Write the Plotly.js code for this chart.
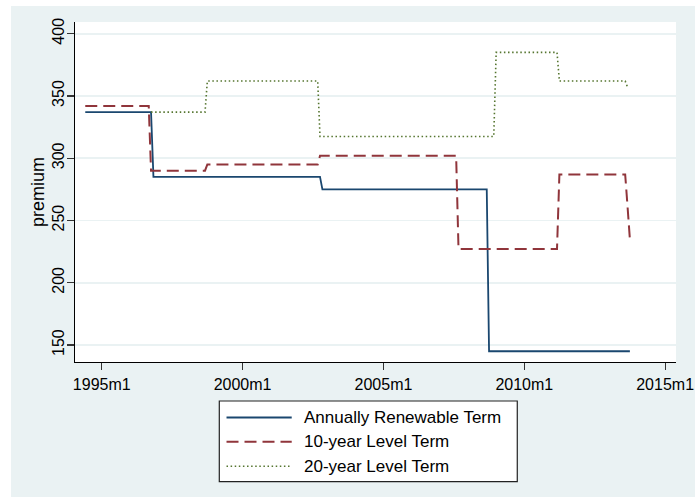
<!DOCTYPE html>
<html>
<head>
<meta charset="utf-8">
<script src="https://cdn.plot.ly/plotly-3.0.1.min.js"></script>
<style>
  html, body { margin: 0; padding: 0; background: #ffffff; width: 695px; height: 497px; overflow: hidden; }
  #chart { position: absolute; left: 11px; top: 6px; width: 684px; height: 491px; }
</style>
</head>
<body>
<div id="chart"></div>
<script>
// ---- Data ----
const seriesNames = ['Annually Renewable Term', '10-year Level Term', '20-year Level Term'];

const annualDates = ['1994-06-01', '1996-10-01', '1996-11-01', '2002-10-01', '2002-11-01', '2008-09-01', '2008-10-01', '2013-10-01'];
const annualPremium = [337, 337, 285, 285, 275, 275, 145, 145];

const tenYearDates = ['1994-06-01', '1996-09-01', '1996-10-01', '1998-09-01', '1998-10-01', '2002-09-01', '2002-10-01',
                      '2007-08-01', '2007-09-01', '2011-03-01', '2011-04-01', '2013-08-01', '2013-09-01', '2013-10-01'];
const tenYearPremium = [342, 342, 290, 290, 295, 295, 302, 302, 227, 227, 287, 287, 261, 235];

const twentyYearDates = ['1996-10-01', '1998-09-01', '1998-10-01', '2002-09-01', '2002-10-01', '2008-12-01', '2009-01-01',
                         '2011-03-01', '2011-04-01', '2013-08-01', '2013-09-01'];
const twentyYearPremium = [337, 337, 362, 362, 317.5, 317.5, 385, 385, 362, 362, 357];

const xTickVals = ['1995-01-01', '2000-01-01', '2005-01-01', '2010-01-01', '2015-01-01'];
const xTickText = ['1995m1', '2000m1', '2005m1', '2010m1', '2015m1'];
const yTickVals = [150, 200, 250, 300, 350, 400];

// ---- Styles ----
const colors = ['#1a476f', '#90353b', '#55752f'];
const dashes = ['solid', '12px,6px', '1.5px,2.6px'];
const widths = [1.8, 2, 1.6];
const FONT = 'Liberation Sans, Arial, sans-serif';

const traces = [
  { x: annualDates, y: annualPremium },
  { x: tenYearDates, y: tenYearPremium },
  { x: twentyYearDates, y: twentyYearPremium }
].map((d, i) => ({
  type: 'scatter', mode: 'lines', x: d.x, y: d.y, name: seriesNames[i],
  line: { color: colors[i], width: widths[i], dash: dashes[i] },
  showlegend: false, hoverinfo: 'skip'
}));

// ---- Custom legend (Stata style: long sample lines) ----
const legendBox = { x0: 0.2401, x1: 0.7359, y0: -0.3521, y1: -0.1147 };
const legendRowsY = [-0.1632, -0.2347, -0.3068];
const legendLineX = [0.2521, 0.3606];
const legendTextX = 0.3772;

const shapes = [{
  type: 'rect', xref: 'paper', yref: 'paper',
  x0: legendBox.x0, x1: legendBox.x1, y0: legendBox.y0, y1: legendBox.y1,
  fillcolor: '#ffffff', line: { color: '#222222', width: 1.2 }, layer: 'above'
}];
const annotations = [];
seriesNames.forEach((name, i) => {
  shapes.push({
    type: 'line', xref: 'paper', yref: 'paper',
    x0: legendLineX[0], x1: legendLineX[1], y0: legendRowsY[i], y1: legendRowsY[i],
    line: { color: colors[i], width: widths[i], dash: dashes[i] }, layer: 'above'
  });
  annotations.push({
    xref: 'paper', yref: 'paper', x: legendTextX, y: legendRowsY[i],
    xanchor: 'left', yanchor: 'middle', showarrow: false, text: name,
    font: { family: FONT, size: 17, color: '#000000' }
  });
});

const layout = {
  width: 684, height: 491,
  margin: { l: 64, r: 19, t: 16, b: 135, pad: 0 },
  paper_bgcolor: '#eaf2f3',
  plot_bgcolor: '#ffffff',
  font: { family: FONT, size: 16, color: '#000000' },
  showlegend: false,
  xaxis: {
    type: 'date',
    range: ['1994-01-19', '2015-05-22'],
    tickmode: 'array', tickvals: xTickVals, ticktext: xTickText,
    showgrid: false, zeroline: false,
    showline: true, linecolor: '#000000', linewidth: 1.2,
    ticks: 'outside', ticklen: 7, tickwidth: 1.2, tickcolor: '#333333',
    tickfont: { family: FONT, size: 16, color: '#000000' },
    ticklabelstandoff: 1,
    ticklabeloverflow: 'allow',
    fixedrange: true
  },
  yaxis: {
    range: [136.35, 409.4],
    tickmode: 'array', tickvals: yTickVals,
    tickangle: -90,
    showgrid: true, gridcolor: '#eaf2f3', gridwidth: 1.8,
    zeroline: false,
    showline: true, linecolor: '#000000', linewidth: 1.2,
    ticks: 'outside', ticklen: 7, tickwidth: 1.2, tickcolor: '#333333',
    tickfont: { family: FONT, size: 16, color: '#000000' },
    ticklabelstandoff: -4,
    ticklabeloverflow: 'allow',
    title: { text: 'premium', font: { family: FONT, size: 18, color: '#000000' }, standoff: 1 },
    fixedrange: true
  },
  shapes: shapes,
  annotations: annotations
};

Plotly.newPlot('chart', traces, layout, { displayModeBar: false, staticPlot: true });
</script>
</body>
</html>
